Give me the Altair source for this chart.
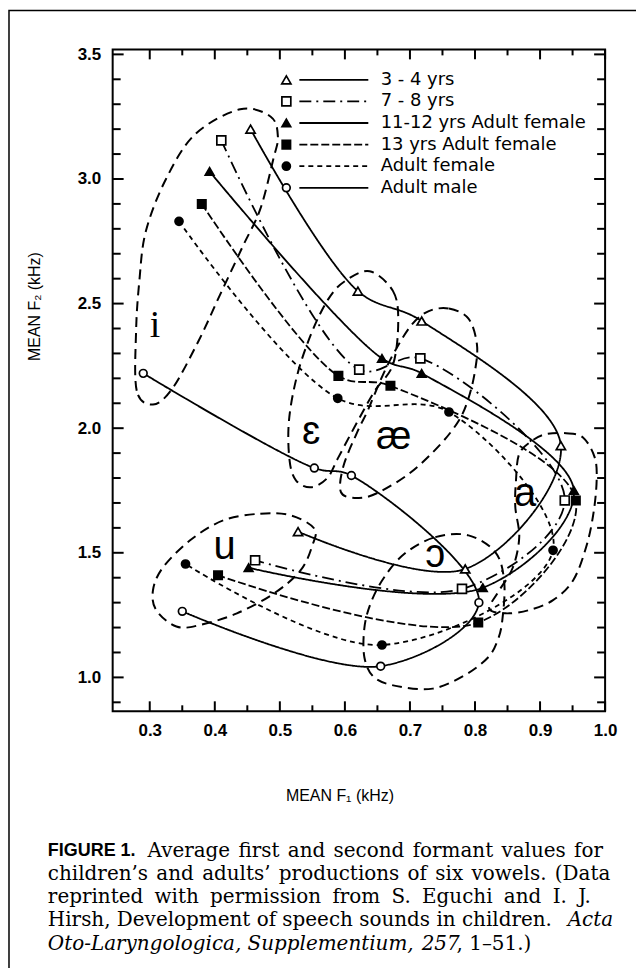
import altair as alt
import pandas as pd

# ---------------- data ----------------
vowels = ["i", "ɛ", "æ", "a", "ɔ", "u"]
series_names = ["3 - 4 yrs", "7 - 8 yrs", "11-12 yrs Adult female",
                "13 yrs Adult female", "Adult female", "Adult male"]

# mean F1 / F2 (kHz), vowel order i, ɛ, æ, a, ɔ, u
f1_3_4 = [0.455, 0.620, 0.718, 0.932, 0.785, 0.528]
f2_3_4 = [3.200, 2.550, 2.430, 1.930, 1.435, 1.585]
f1_7_8 = [0.410, 0.622, 0.716, 0.938, 0.780, 0.462]
f2_7_8 = [3.155, 2.235, 2.280, 1.710, 1.355, 1.470]
f1_11_12 = [0.392, 0.657, 0.718, 0.952, 0.812, 0.452]
f2_11_12 = [3.030, 2.280, 2.220, 1.750, 1.360, 1.440]
f1_13 = [0.380, 0.590, 0.670, 0.955, 0.805, 0.405]
f2_13 = [2.900, 2.210, 2.170, 1.710, 1.220, 1.410]
f1_af = [0.345, 0.589, 0.760, 0.920, 0.657, 0.355]
f2_af = [2.830, 2.120, 2.065, 1.510, 1.130, 1.455]
f1_am = [0.290, 0.553, 0.610, 0.806, 0.655, 0.350]
f2_am = [2.220, 1.840, 1.810, 1.300, 1.045, 1.265]

# dashed vowel boundaries (outline points)
loop_i_f1 = [0.305, 0.280, 0.279, 0.284, 0.294, 0.325, 0.370, 0.439, 0.486, 0.497, 0.490, 0.470, 0.444, 0.408, 0.375, 0.335]
loop_i_f2 = [2.095, 2.150, 2.390, 2.590, 2.790, 3.000, 3.180, 3.280, 3.250, 3.170, 3.080, 2.880, 2.735, 2.535, 2.350, 2.160]
loop_e_f1 = [0.638, 0.674, 0.682, 0.674, 0.646, 0.620, 0.590, 0.573, 0.548, 0.525, 0.515, 0.514, 0.527, 0.550, 0.575, 0.600]
loop_e_f2 = [2.630, 2.550, 2.430, 2.256, 2.150, 2.030, 1.883, 1.800, 1.763, 1.790, 1.870, 2.030, 2.216, 2.390, 2.520, 2.590]
loop_ae_f1 = [0.729, 0.760, 0.790, 0.803, 0.800, 0.790, 0.775, 0.745, 0.700, 0.650, 0.620, 0.594, 0.598, 0.620, 0.635, 0.656, 0.677, 0.703]
loop_ae_f2 = [2.470, 2.480, 2.440, 2.336, 2.230, 2.120, 2.030, 1.930, 1.820, 1.740, 1.720, 1.743, 1.850, 1.990, 2.070, 2.200, 2.310, 2.416]
loop_a_f1 = [0.909, 0.940, 0.966, 0.984, 0.987, 0.982, 0.971, 0.951, 0.920, 0.883, 0.847, 0.822, 0.835, 0.858, 0.868, 0.862, 0.863, 0.868, 0.888]
loop_a_f2 = [1.976, 1.980, 1.963, 1.883, 1.790, 1.657, 1.524, 1.390, 1.310, 1.270, 1.257, 1.275, 1.340, 1.440, 1.563, 1.683, 1.790, 1.897, 1.950]
loop_o_f1 = [0.692, 0.739, 0.790, 0.832, 0.845, 0.842, 0.835, 0.820, 0.785, 0.735, 0.680, 0.645, 0.630, 0.630, 0.640, 0.660]
loop_o_f2 = [1.497, 1.563, 1.570, 1.500, 1.380, 1.230, 1.150, 1.080, 1.010, 0.955, 0.965, 1.000, 1.080, 1.200, 1.300, 1.400]
loop_u_f1 = [0.413, 0.470, 0.517, 0.553, 0.550, 0.532, 0.491, 0.434, 0.377, 0.341, 0.310, 0.305, 0.320, 0.362]
loop_u_f2 = [1.630, 1.657, 1.650, 1.597, 1.530, 1.430, 1.337, 1.257, 1.210, 1.204, 1.270, 1.350, 1.440, 1.550]

# vowel symbol positions
label_f1 = [0.308, 0.548, 0.675, 0.877, 0.739, 0.415]
label_f2 = [2.408, 1.968, 1.948, 1.721, 1.475, 1.508]

# axis tick values
x_major = [0.3, 0.4, 0.5, 0.6, 0.7, 0.8, 0.9, 1.0]
x_minor = [0.35, 0.45, 0.55, 0.65, 0.75, 0.85, 0.95]
y_major = [1.0, 1.5, 2.0, 2.5, 3.0, 3.5]
y_minor = [0.9, 1.1, 1.2, 1.3, 1.4, 1.6, 1.7, 1.8, 1.9, 2.1, 2.2, 2.3, 2.4,
           2.6, 2.7, 2.8, 2.9, 3.1, 3.2, 3.3, 3.4]

caption_1b = "Average first and second formant values for"
caption_2 = "children\u2019s and adults\u2019 productions of six vowels. (Data"
caption_3 = "reprinted with permission from S. Eguchi and I. J."
caption_4 = "Hirsh, Development of speech sounds in children."

# ---------------- tables ----------------
f1_all = [f1_3_4, f1_7_8, f1_11_12, f1_13, f1_af, f1_am]
f2_all = [f2_3_4, f2_7_8, f2_11_12, f2_13, f2_af, f2_am]
rows = []
for s, a_list, b_list in zip(series_names, f1_all, f2_all):
    for k, (v, a, b) in enumerate(zip(vowels, a_list, b_list)):
        rows.append({"series": s, "vowel": v, "order": k, "f1": a, "f2": b})
pts = pd.DataFrame(rows)

loop_rows = []
for v, a_list, b_list in zip(vowels, [loop_i_f1, loop_e_f1, loop_ae_f1, loop_a_f1, loop_o_f1, loop_u_f1],
                             [loop_i_f2, loop_e_f2, loop_ae_f2, loop_a_f2, loop_o_f2, loop_u_f2]):
    for k, (a, b) in enumerate(zip(a_list, b_list)):
        loop_rows.append({"vowel": v, "order": k, "f1": a, "f2": b})
loops = pd.DataFrame(loop_rows)

labels = pd.DataFrame({"vowel": vowels, "f1": label_f1, "f2": label_f2})

# legend table (placed inside the plot, upper middle)
leg = pd.DataFrame({"series": series_names})
leg["f2"] = [3.398 - 0.0867 * i for i in range(len(series_names))]
leg["f1"] = 0.510
leg["f1a"] = 0.530
leg["f1b"] = 0.636
leg["f1t"] = 0.655

# ---------------- scales / helpers ----------------
W, H = 494, 664
xs = alt.Scale(domain=[0.243, 1.0], nice=False, zero=False)
ys = alt.Scale(domain=[0.864, 3.52], nice=False, zero=False)
AX = dict(ticks=False, domain=False, grid=False, labelFlush=False, labelOverlap=False,
          labelFontSize=17, labelFontWeight="bold", labelFont="Liberation Sans",
          labelColor="black", title=None, format=".1f")
xaxis = alt.Axis(values=x_major, labelPadding=11, **AX)
yaxis = alt.Axis(values=y_major, labelPadding=12, **AX)


def X(f="f1"):
    return alt.X(f"{f}:Q", scale=xs, axis=xaxis)


def Y(f="f2"):
    return alt.Y(f"{f}:Q", scale=ys, axis=yaxis)


shape_sc = alt.Scale(domain=series_names,
                     range=["triangle-up", "square", "triangle-up", "square", "circle", "circle"])
fill_sc = alt.Scale(domain=series_names,
                    range=["white", "white", "black", "black", "black", "white"])
size_sc = alt.Scale(domain=series_names, range=[85, 60, 85, 60, 70, 45])
dash_sc = alt.Scale(domain=series_names,
                    range=[[1, 0], [12, 5, 2, 5], [1, 0], [8, 3], [5, 4], [1, 0]])

one = pd.DataFrame({"k": [0]})


def txt(t, px, py, **kw):
    return alt.Chart(one).mark_text(text=t, **kw).encode(x=alt.value(px), y=alt.value(py))


# ---------------- layers ----------------
loop_layer = alt.Chart(loops).mark_line(
    interpolate="cardinal-closed", color="black", strokeWidth=2, strokeDash=[10, 6]
).encode(x=X(), y=Y(), detail="vowel:N", order="order:Q")

series_layer = alt.Chart(pts).mark_line(
    interpolate="catmull-rom", color="black", strokeWidth=1.8
).encode(x=X(), y=Y(), detail="series:N", order="order:Q",
         strokeDash=alt.StrokeDash("series:N", scale=dash_sc, legend=None))

pt_layer = alt.Chart(pts).mark_point(
    filled=True, stroke="black", strokeWidth=1.7, opacity=1
).encode(x=X(), y=Y(),
         shape=alt.Shape("series:N", scale=shape_sc, legend=None),
         fill=alt.Fill("series:N", scale=fill_sc, legend=None),
         size=alt.Size("series:N", scale=size_sc, legend=None))

leg_lines = alt.Chart(leg).mark_rule(color="black", strokeWidth=1.8).encode(
    x=X("f1a"), x2=alt.X2("f1b"), y=Y(),
    strokeDash=alt.StrokeDash("series:N", scale=dash_sc, legend=None))
leg_pts = alt.Chart(leg).mark_point(
    filled=True, stroke="black", strokeWidth=1.7, opacity=1
).encode(x=X(), y=Y(),
         shape=alt.Shape("series:N", scale=shape_sc, legend=None),
         fill=alt.Fill("series:N", scale=fill_sc, legend=None),
         size=alt.Size("series:N", scale=size_sc, legend=None))
leg_txt = alt.Chart(leg).mark_text(
    align="left", baseline="middle", font="DejaVu Sans", fontSize=18, color="black"
).encode(x=X("f1t"), y=Y(), text="series:N")

vow_i = alt.Chart(labels[labels.vowel == "i"]).mark_text(
    font="Liberation Serif", fontSize=38, baseline="middle", color="black"
).encode(x=X(), y=Y(), text="vowel:N")
vow_rest = alt.Chart(labels[labels.vowel != "i"]).mark_text(
    font="Liberation Sans", fontSize=40, baseline="middle", color="black", dy=-4
).encode(x=X(), y=Y(), text="vowel:N")

# tick marks drawn inward on all four sides
xt_major = pd.DataFrame({"f1": x_major})
xt_minor = pd.DataFrame({"f1": x_minor})
yt_major = pd.DataFrame({"f2": y_major})
yt_minor = pd.DataFrame({"f2": y_minor})
tick_layers = []
for df, ln in [(xt_major, 10), (xt_minor, 6)]:
    tick_layers.append(alt.Chart(df).mark_rule(color="black", strokeWidth=2).encode(
        x=X(), y=alt.value(H), y2=alt.value(H - ln)))
    tick_layers.append(alt.Chart(df).mark_rule(color="black", strokeWidth=2).encode(
        x=X(), y=alt.value(0), y2=alt.value(ln)))
for df, ln in [(yt_major, 11), (yt_minor, 8)]:
    tick_layers.append(alt.Chart(df).mark_rule(color="black", strokeWidth=2).encode(
        y=Y(), x=alt.value(0), x2=alt.value(ln)))
    tick_layers.append(alt.Chart(df).mark_rule(color="black", strokeWidth=2).encode(
        y=Y(), x=alt.value(W), x2=alt.value(W - ln)))

# titles and caption (positions relative to plot origin)
ox, oy = 113, 48
titles = [
    txt("MEAN F\u2081 (kHz)", 341 - ox, 797 - oy, font="Liberation Sans", fontSize=16,
        align="center", baseline="middle", color="black"),
    txt("MEAN F\u2082 (kHz)", 35 - ox, 306 - oy, font="Liberation Sans", fontSize=16,
        align="center", baseline="middle", angle=270, color="black"),
]
CF = "DejaVu Serif"
CS = 20
serif = dict(font=CF, fontSize=CS, align="left", baseline="middle", color="black")
ital = dict(font=CF, fontSize=CS, fontStyle="italic", baseline="middle", color="black")
caption = [
    txt("FIGURE 1.", 48 - ox, 852 - oy, font="Liberation Sans", fontSize=18, fontWeight="bold",
        align="left", baseline="middle", color="black"),
    txt(caption_1b.replace(" ", " \u200a"), 148 - ox, 852 - oy, **serif),
    txt(caption_2.replace(" ", " \u200a"), 48 - ox, 875 - oy, **serif),
    txt(caption_3.replace(" ", " \u2005"), 48 - ox, 898 - oy, **serif),
    txt(caption_4, 48 - ox, 921 - oy, **serif),
    txt("Acta", 615 - ox, 921 - oy, align="right", **ital),
    txt("Oto-Laryngologica, Supplementium,", 48 - ox, 945 - oy, align="left", **ital),
    txt("257", 423 - ox, 945 - oy, align="left", **ital),
    txt(", 1\u201351.)", 458 - ox, 945 - oy, **serif),
]

border = alt.Chart(one).mark_rect(fill=None, stroke="black", strokeWidth=1.5).encode(
    x=alt.value(9 - ox), x2=alt.value(639 - ox), y=alt.value(9 - oy), y2=alt.value(1000 - oy))

chart = alt.layer(
    loop_layer, series_layer, *tick_layers, leg_lines, pt_layer, leg_pts, leg_txt,
    vow_i, vow_rest, *titles, *caption, border
).properties(
    width=W, height=H,
    padding={"left": ox - 8, "top": oy - 8, "right": 644 - 8 - (ox - 8) - W - 6,
             "bottom": 965 - (oy - 8) - H - 5},
    autosize=alt.AutoSizeParams(type="none"),
).configure_view(stroke="black", strokeWidth=2)

chart.save("out.html", embed_options={"renderer": "svg", "actions": False})
